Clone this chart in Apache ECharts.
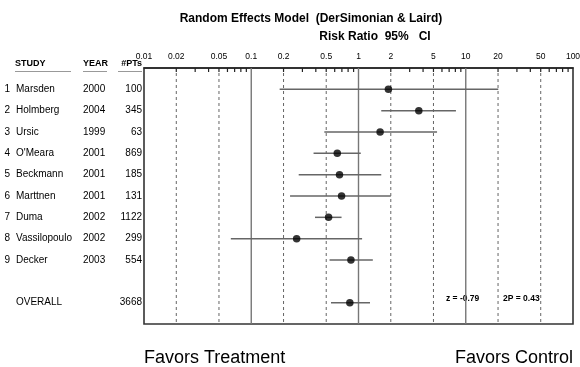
<!DOCTYPE html>
<html>
<head>
<meta charset="utf-8">
<script src="https://cdn.jsdelivr.net/npm/echarts@6/dist/echarts.min.js"></script>
<style>
  html, body { margin: 0; padding: 0; background: #fff; }
  #chart { width: 580px; height: 367px; }
</style>
</head>
<body>
<div id="chart"></div>
<script>
// study table
const studies = ['Marsden', 'Holmberg', 'Ursic', "O'Meara", 'Beckmann', 'Marttnen', 'Duma', 'Vassilopoulo', 'Decker']
const years = [2000, 2004, 1999, 2001, 2001, 2001, 2002, 2002, 2003]
const patients = [100, 345, 63, 869, 185, 131, 1122, 299, 554]
// risk ratio and 95% CI
const riskRatio = [1.9, 3.65, 1.59, 0.634, 0.665, 0.695, 0.526, 0.265, 0.85]
const ciLower = [0.184, 1.63, 0.48, 0.381, 0.277, 0.23, 0.393, 0.0645, 0.537]
const ciUpper = [20.1, 8.1, 5.4, 1.05, 1.63, 2.0, 0.695, 1.08, 1.36]
// pooled estimate
const overallRR = 0.83
const overallLower = 0.554
const overallUpper = 1.28
const overallPatients = 3668
const overallZ = '-0.79'
const overallP = '0.43'
// axis
const tickLabels = [0.01, 0.02, 0.05, 0.1, 0.2, 0.5, 1, 2, 5, 10, 20, 50, 100]
const dashedLines = [0.02, 0.05, 0.2, 0.5, 2, 5, 20, 50]
const solidLines = [0.1, 1, 10]
const minorTicks = []
;[0.01, 0.1, 1, 10].forEach(d => {
  for (let k = 2; k <= 9; k++) minorTicks.push(+(d * k).toPrecision(3))
})

const FONT = '"Liberation Sans", Arial, sans-serif'
const rowPos = studies.map((s, i) => i + 1)
const overallRow = 11

const forest = studies.map((s, i) => [riskRatio[i], rowPos[i], ciLower[i], ciUpper[i]])
forest.push([overallRR, overallRow, overallLower, overallUpper])

const tableRows = studies.map((s, i) => [rowPos[i], (i + 1) + '', s, years[i] + '', patients[i] + ''])
tableRows.push([overallRow, '', 'OVERALL', '', overallPatients + ''])

const chart = echarts.init(document.getElementById('chart'))

const txt = (x, y, text, size, align, weight) => ({
  type: 'text',
  style: {
    x, y, text,
    fill: '#000',
    font: (weight || 'normal') + ' ' + size + 'px ' + FONT,
    align: align || 'left',
    verticalAlign: 'middle'
  }
})

const option = {
  animation: false,
  backgroundColor: '#fff',
  grid: {
    left: 144,
    right: 7,
    top: 68,
    bottom: 43,
    show: true,
    borderColor: '#333',
    borderWidth: 1.6
  },
  xAxis: {
    type: 'log',
    logBase: 10,
    min: 0.01,
    max: 100,
    position: 'top',
    axisLine: { show: true, lineStyle: { color: '#222', width: 1.6 } },
    axisTick: { show: false },
    axisLabel: { show: false },
    splitLine: { show: false }
  },
  yAxis: {
    type: 'value',
    min: 0,
    max: 12,
    inverse: true,
    show: false
  },
  graphic: [
    txt(311, 19, 'Random Effects Model  (DerSimonian & Laird)', 12, 'center', 'bold'),
    txt(375, 37, 'Risk Ratio  95%   CI', 12, 'center', 'bold'),
    txt(15, 64, 'STUDY', 9, 'left', 'bold'),
    txt(83, 64, 'YEAR', 9, 'left', 'bold'),
    txt(142, 64, '#PTs', 9, 'right', 'bold'),
    { type: 'line', shape: { x1: 15, y1: 71.5, x2: 71, y2: 71.5 }, style: { stroke: '#999', lineWidth: 1 } },
    { type: 'line', shape: { x1: 83, y1: 71.5, x2: 107, y2: 71.5 }, style: { stroke: '#999', lineWidth: 1 } },
    { type: 'line', shape: { x1: 118, y1: 71.5, x2: 142, y2: 71.5 }, style: { stroke: '#999', lineWidth: 1 } },
    txt(446, 299, 'z = ' + overallZ, 8.5, 'left', 'bold'),
    txt(503, 299, '2P = ' + overallP, 8.5, 'left', 'bold'),
    txt(144, 358, 'Favors Treatment', 18, 'left'),
    txt(573, 358, 'Favors Control', 18, 'right')
  ],
  series: [
    {
      // reference lines
      type: 'custom',
      z: 1,
      silent: true,
      data: dashedLines.map(v => [v, 0]).concat(solidLines.map(v => [v, 1])),
      renderItem: (params, api) => {
        const v = api.value(0)
        const solid = api.value(1) === 1
        const top = api.coord([v, 0])
        const bot = api.coord([v, 12])
        return {
          type: 'line',
          shape: { x1: top[0], y1: top[1] + (solid ? 0 : 5), x2: bot[0], y2: bot[1] },
          style: solid
            ? { stroke: '#777', lineWidth: 1.4 }
            : { stroke: '#666', lineWidth: 1, lineDash: [3, 3] }
        }
      }
    },
    {
      // minor ticks on top axis
      type: 'custom',
      z: 2,
      silent: true,
      data: minorTicks.map(v => [v, 0]),
      renderItem: (params, api) => {
        const p = api.coord([api.value(0), 0])
        const len = [0.1, 1, 10].includes(api.value(0)) ? 5 : 4
        return {
          type: 'line',
          shape: { x1: p[0], y1: p[1], x2: p[0], y2: p[1] + len },
          style: { stroke: '#222', lineWidth: 1.2 }
        }
      }
    },
    {
      // tick labels
      type: 'custom',
      z: 2,
      silent: true,
      clip: false,
      data: tickLabels.map(v => [v, 0]),
      renderItem: (params, api) => {
        const p = api.coord([api.value(0), 0])
        return {
          type: 'text',
          style: {
            x: p[0], y: p[1] - 11,
            text: String(tickLabels[params.dataIndex]),
            fill: '#000',
            font: '8.5px ' + FONT,
            align: 'center',
            verticalAlign: 'middle'
          }
        }
      }
    },
    {
      // study table
      type: 'custom',
      z: 3,
      silent: true,
      clip: false,
      data: tableRows.map(r => [0.01, r[0]]),
      renderItem: (params, api) => {
        const r = tableRows[params.dataIndex]
        const y = api.coord([0.01, api.value(1)])[1]
        return {
          type: 'group',
          children: [
            txt(10, y, r[1], 10, 'right'),
            txt(16, y, r[2], 10, 'left'),
            txt(83, y, r[3], 10, 'left'),
            txt(142, y, r[4], 10, 'right')
          ]
        }
      }
    },
    {
      // confidence intervals
      type: 'custom',
      z: 4,
      silent: true,
      data: forest,
      renderItem: (params, api) => {
        const a = api.coord([api.value(2), api.value(1)])
        const b = api.coord([api.value(3), api.value(1)])
        return {
          type: 'line',
          shape: { x1: a[0], y1: a[1], x2: b[0], y2: b[1] },
          style: { stroke: '#666', lineWidth: 1.5 }
        }
      }
    },
    {
      type: 'scatter',
      z: 5,
      silent: true,
      symbol: 'circle',
      symbolSize: 7.5,
      itemStyle: { color: '#000' },
      data: forest.map(d => [d[0], d[1]])
    }
  ]
}

chart.setOption(option)
</script>
</body>
</html>
